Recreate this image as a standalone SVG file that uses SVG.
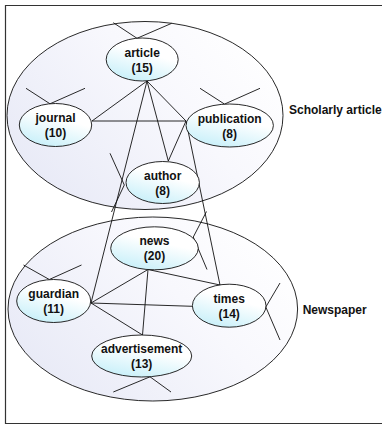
<svg xmlns="http://www.w3.org/2000/svg" width="382" height="426" viewBox="0 0 382 426">
<defs>
<linearGradient id="nodeFill" x1="0.7" y1="0" x2="0.25" y2="1">
<stop offset="0" stop-color="#ffffff"/>
<stop offset="0.35" stop-color="#ffffff"/>
<stop offset="1" stop-color="#c6eff9"/>
</linearGradient>
<linearGradient id="groupFill" x1="0" y1="0.8" x2="1" y2="0.2">
<stop offset="0" stop-color="#e7e9f6"/>
<stop offset="0.6" stop-color="#f8f8fd"/>
<stop offset="1" stop-color="#ffffff"/>
</linearGradient>
<style>
.frame{fill:none;stroke:#333333;stroke-width:1.2}
.group{fill:url(#groupFill);stroke:#111111;stroke-width:0.9}
.node{fill:url(#nodeFill);stroke:#111111;stroke-width:0.9}
.edge{stroke:#111111;stroke-width:0.9;fill:none}
text{font-family:"Liberation Sans",Arial,sans-serif;font-weight:bold;font-size:12px;fill:#111111}
.lbl{text-anchor:middle}
</style>
</defs>
<rect x="0" y="0" width="382" height="426" fill="#ffffff"/>
<path class="frame" d="M382,5.5 H5.5 V423.5 H382"/>
<g id="scholarly-article">
<ellipse class="group" cx="145" cy="115.5" rx="138" ry="94"/>
<text x="289" y="114">Scholarly article</text>
</g>
<g id="newspaper">
<ellipse class="group" cx="152.8" cy="309" rx="144.8" ry="92"/>
<text x="302.7" y="314">Newspaper</text>
</g>
<g id="connectors">
<line class="edge" x1="147" y1="81" x2="92" y2="121"/>
<line class="edge" x1="147" y1="81" x2="186" y2="121"/>
<line class="edge" x1="92" y1="121" x2="186" y2="121"/>
<line class="edge" x1="147" y1="81" x2="168.3" y2="161"/>
<line class="edge" x1="186" y1="121" x2="168.3" y2="161"/>
<line class="edge" x1="147" y1="81" x2="91" y2="303"/>
<line class="edge" x1="186" y1="121" x2="220" y2="285"/>
<line class="edge" x1="148" y1="269.5" x2="220" y2="285"/>
<line class="edge" x1="148" y1="269.5" x2="91" y2="303"/>
<line class="edge" x1="148" y1="269.5" x2="142.5" y2="335"/>
<line class="edge" x1="91" y1="303" x2="192.3" y2="306.3"/>
<line class="edge" x1="91" y1="303" x2="142.5" y2="335"/>
<polyline class="edge" points="113.3,22.7 137,38.3 171.7,23.3"/>
<polyline class="edge" points="26,88.3 50,103.8 85,88.3"/>
<polyline class="edge" points="200,88.3 224.5,104.1 260,88.3"/>
<polyline class="edge" points="110,153.3 124.3,185 111.5,212"/>
<polyline class="edge" points="206.5,211.5 193.3,237 207,269.5"/>
<polyline class="edge" points="23.5,265 49.3,279.5 81.5,265"/>
<polyline class="edge" points="280,283 265.8,307 280,340"/>
<polyline class="edge" points="113.3,392 150,376.8 171,392"/>
</g>
<g id="article">
<ellipse class="node" cx="142.2" cy="59.5" rx="36" ry="21.5"/>
<text class="lbl" x="142.2" y="56.5">article</text>
<text class="lbl" x="142.2" y="71.5">(15)</text>
</g>
<g id="journal">
<ellipse class="node" cx="55.5" cy="125" rx="36.2" ry="21.5"/>
<text class="lbl" x="55.5" y="122">journal</text>
<text class="lbl" x="55.5" y="137">(10)</text>
</g>
<g id="publication">
<ellipse class="node" cx="229.7" cy="125.5" rx="43.7" ry="21.5"/>
<text class="lbl" x="229.7" y="122.5">publication</text>
<text class="lbl" x="229.7" y="137.5">(8)</text>
</g>
<g id="author">
<ellipse class="node" cx="162.7" cy="182.5" rx="36.7" ry="21"/>
<text class="lbl" x="162.7" y="179.5">author</text>
<text class="lbl" x="162.7" y="194.5">(8)</text>
</g>
<g id="news">
<ellipse class="node" cx="154.5" cy="248.3" rx="43.8" ry="21.5"/>
<text class="lbl" x="154.5" y="245.3">news</text>
<text class="lbl" x="154.5" y="260.3">(20)</text>
</g>
<g id="guardian">
<ellipse class="node" cx="53.7" cy="301" rx="37" ry="21.5"/>
<text class="lbl" x="53.7" y="298">guardian</text>
<text class="lbl" x="53.7" y="313">(11)</text>
</g>
<g id="times">
<ellipse class="node" cx="229.2" cy="305.7" rx="36.8" ry="21.5"/>
<text class="lbl" x="229.2" y="302.7">times</text>
<text class="lbl" x="229.2" y="317.7">(14)</text>
</g>
<g id="advertisement">
<ellipse class="node" cx="141.7" cy="356" rx="50" ry="21"/>
<text class="lbl" x="141.7" y="353">advertisement</text>
<text class="lbl" x="141.7" y="368">(13)</text>
</g>
</svg>
